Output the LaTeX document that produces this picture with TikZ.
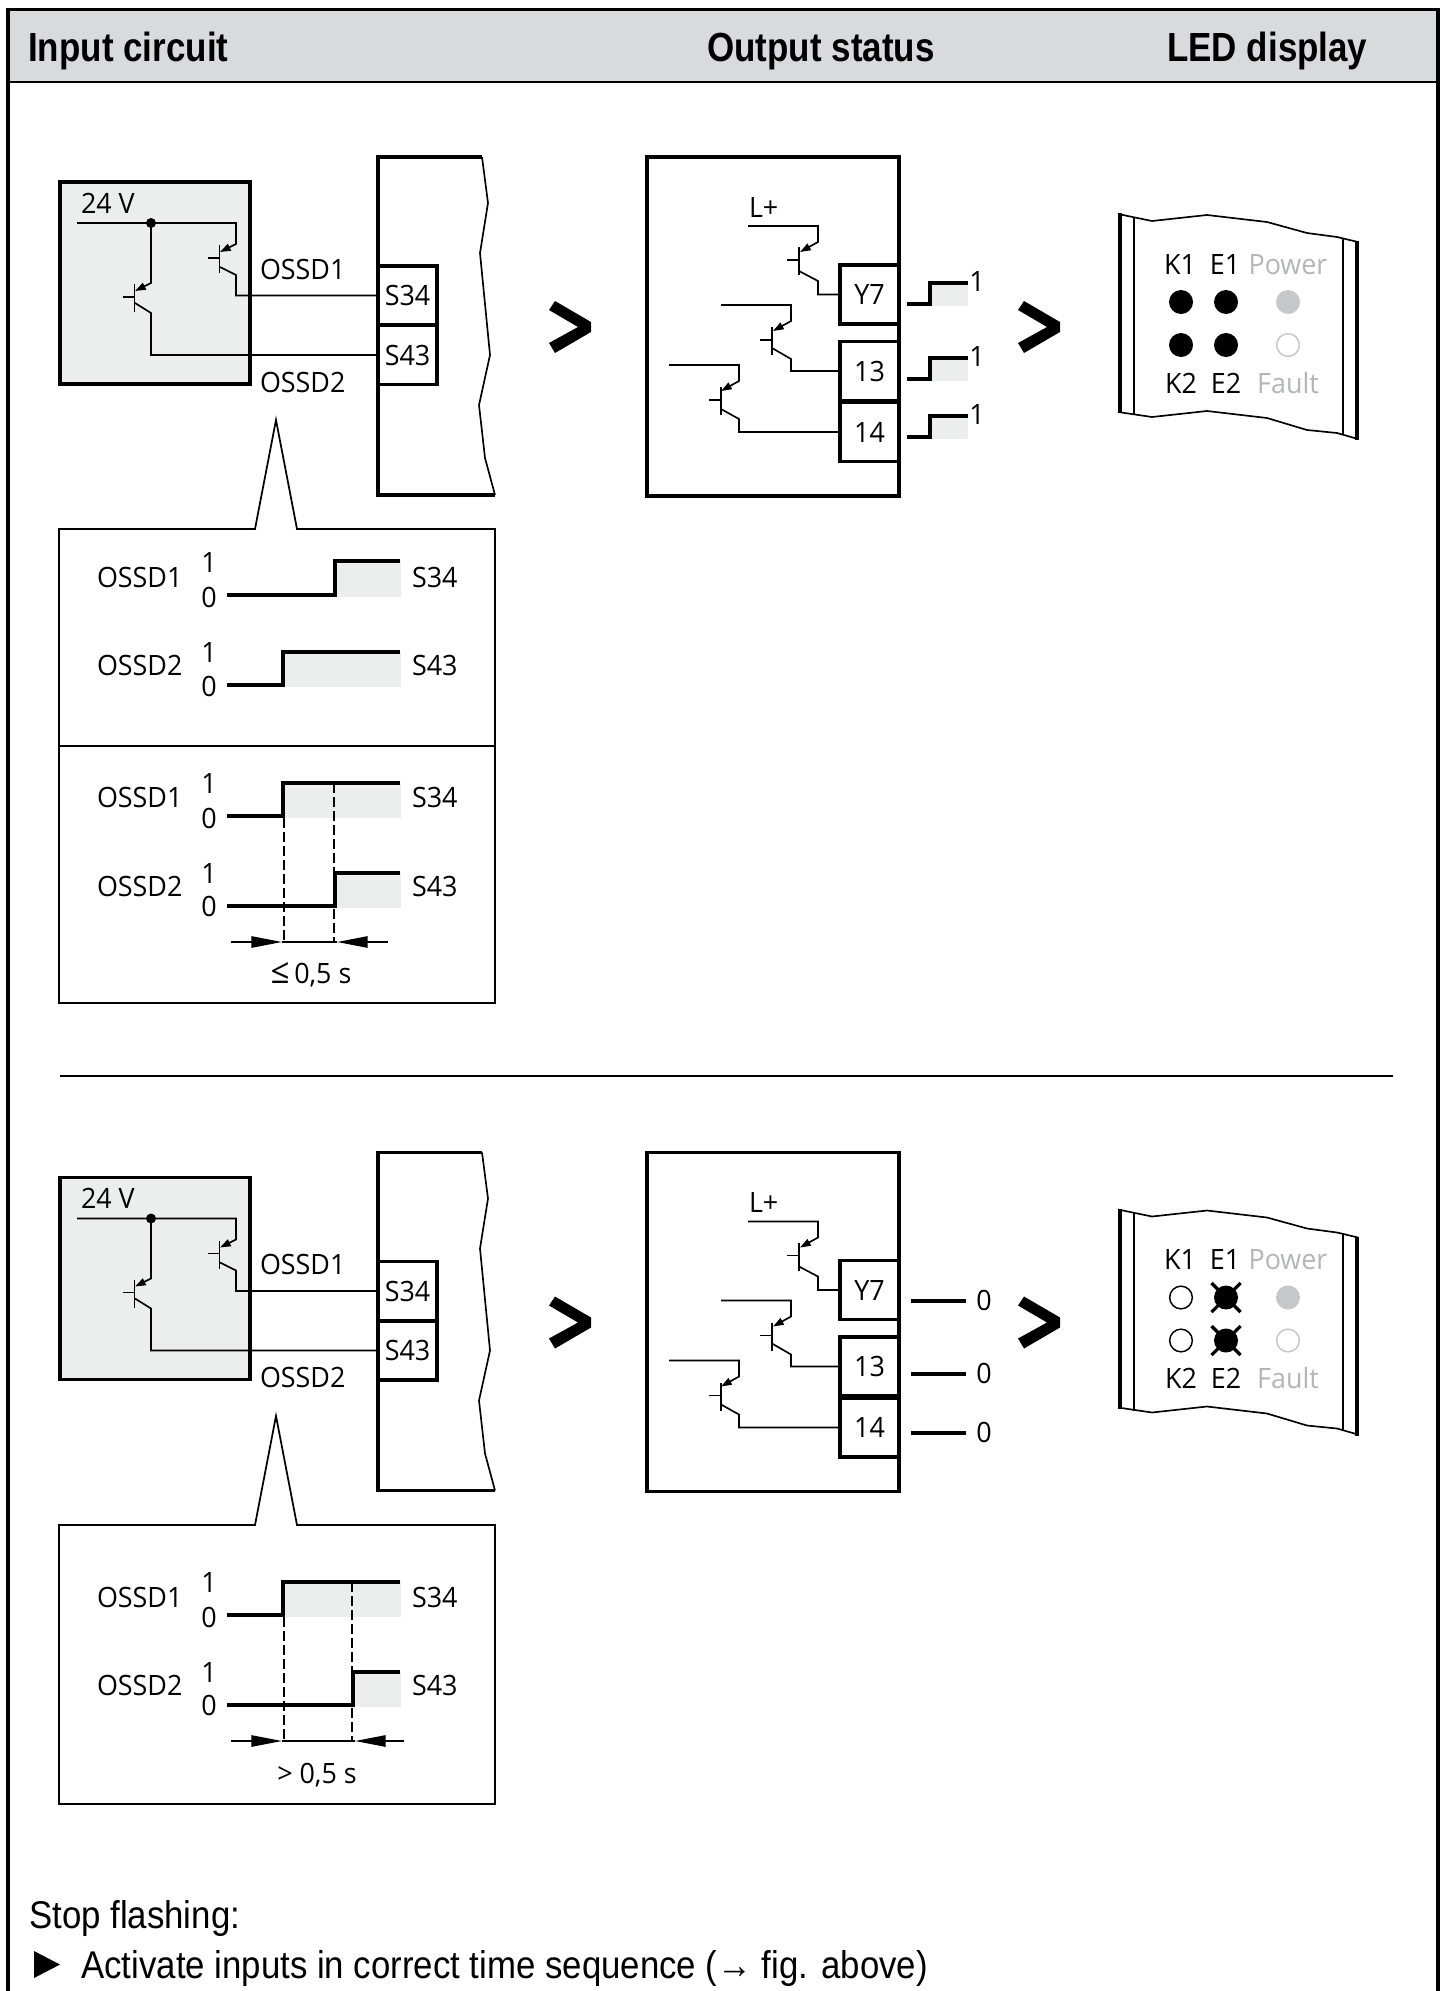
\documentclass[tikz,border=0pt]{standalone}
\usepackage{fontspec}
\setmainfont[FakeStretch=0.96]{Open Sans}
\newfontfamily\hdfont[FakeStretch=0.86]{Liberation Sans}
\newfontfamily\ftfont[FakeStretch=0.90]{Liberation Sans}
\usetikzlibrary{arrows.meta}
\definecolor{hdgray}{HTML}{D9DADB}
\definecolor{lightg}{HTML}{ECEDED}
\definecolor{ledg}{HTML}{C6C7C8}
\definecolor{txtg}{HTML}{B4B5B6}
\tikzset{
  heavy/.style={line width=2.7pt,line join=miter},
  medium/.style={line width=1.3pt},
  wire/.style={line width=1.25pt,line join=miter},
  wave/.style={line width=2.7pt,line join=miter},
  lab/.style={inner sep=0pt,outer sep=0pt,font=\fontsize{21}{25}\selectfont},
  labw/.style={lab,anchor=base west},
  labc/.style={lab,anchor=base},
  term/.style={draw,heavy,rectangle,inner sep=0pt,outer sep=0pt,minimum width=44.25pt,minimum height=44.25pt,font=\fontsize{21}{25}\selectfont},
  head/.style={inner sep=0pt,anchor=base west,font=\hdfont\bfseries\fontsize{30.5}{34}\selectfont},
  foot/.style={inner sep=0pt,anchor=base west,font=\ftfont\fontsize{29}{33}\selectfont},
  ledon/.style={circle,inner sep=0pt,minimum size=18pt,fill=black},
  ledoff/.style={circle,inner sep=0pt,minimum size=17pt,draw=black,line width=1.1pt},
  etip/.style={-{Triangle[length=8pt,width=5.5pt]}},
  dimtip/.style={-{Triangle[length=23pt,width=8.5pt]}},
}
\newcommand{\qbase}[2]{%
  \draw[wire] (#1,#2) -- (#1,#2+28);
  \draw[wire] (#1-12,#2+13) -- (#1,#2+13);
}
\newcommand{\chev}[1]{%
  \fill[black] (#1+555,301) -- (#1+591,322) -- (#1+591,332) -- (#1+555,353) -- (#1+549,343) -- (#1+578,327) -- (#1+549,310) -- cycle;
}
\newcommand{\sig}[9]{%
  \fill[lightg] (#8,#9) rectangle (400.5,#7+2);
  \draw[wave] (227,#7) -| (#8,#9) -- (400,#9);
  \node[labw] (#3a) at (97,#4) {#1};
  \node[labc] (#3b) at (209,#5) {1};
  \node[labc] (#3c) at (209,#6) {0};
  \node[labw] (#3d) at (412,#4) {#2};
}
\newcommand{\circuit}[1]{%
  \draw[heavy,fill=lightg] (60,182) rectangle (250,384);
  \draw[heavy] (482,157) -- (378,157) -- (378,495) -- (495,495);
  \draw[wire] (482,157) -- (488,203) -- (480,253) -- (490,355) -- (479,405) -- (485,458) -- (495,495);
  \node[term] (#1s34) at (407.5,295.5) {S34};
  \node[term] (#1s43) at (407.5,355) {S43};
  \node[labw] (#1v) at (81,213) {24 V};
  \node[labw] (#1o1) at (260,279) {OSSD1};
  \node[labw] (#1o2) at (260,392) {OSSD2};
  \coordinate (#1vs) at (77,223);
  \node[circle,fill=black,inner sep=0pt,minimum size=7.5pt] (#1dot) at (151,223) {};
  \draw[wire,etip] (#1vs) -| (236,244) -- (220,252);
  \draw[wire,etip] (#1dot.center) -- (151,283) -- (135,291);
  \qbase{219.5}{245}
  \qbase{134.5}{284}
  \draw[wire] (220,267) -- (236,275) |- (#1s34.west);
  \draw[wire] (135,303) -- (151,313) |- (#1s43.west);
  \chev{0}
  \draw[heavy] (647,157) rectangle (899,496);
  \node[term] (#1y7) at (869.5,294.5) {Y7};
  \node[term] (#1t13) at (869.5,371) {13};
  \node[term] (#1t14) at (869.5,432) {\raisebox{-1pt}{14}};
  \node[labw] (#1lp) at (749,217) {L+};
  \coordinate (#1a1) at (748,226);
  \coordinate (#1a2) at (721,305);
  \coordinate (#1a3) at (669,365);
  \draw[wire,etip] (#1a1) -| (818,242) -- (800,252);
  \draw[wire,etip] (#1a2) -| (791,321) -- (773,331);
  \draw[wire,etip] (#1a3) -| (739,381) -- (721,391);
  \qbase{799}{247}
  \qbase{772}{327}
  \qbase{721}{387}
  \draw[wire] (799,271) -- (818,281) |- (#1y7.west);
  \draw[wire] (772,348) -- (791,359) |- (#1t13.west);
  \draw[wire] (721,409) -- (739,419) |- (#1t14.west);
  \chev{469}
  \draw[wire] (1118,214) -- (1152,221) -- (1207,215) -- (1267,222) -- (1307,233) -- (1337,237) -- (1358,242);
  \draw[wire] (1118,412) -- (1152,417) -- (1207,411) -- (1267,418) -- (1307,430) -- (1337,433) -- (1358,439);
  \draw[line width=3pt] (1119.5,213) -- (1119.5,413);
  \draw[line width=3pt] (1357,241) -- (1357,440);
  \draw[wire] (1134,217) -- (1134,415);
  \draw[wire] (1343,238) -- (1343,434);
  \node[labc] (#1k1) at (1180,274) {K1};
  \node[labc] (#1e1) at (1225,274) {E1};
  \node[labc,text=txtg] (#1pw) at (1288,274) {Power};
  \node[labc] (#1k2) at (1181,393) {K2};
  \node[labc] (#1e2) at (1226,393) {E2};
  \node[labc,text=txtg] (#1fa) at (1288,393) {Fault};
  \node[circle,inner sep=0pt,minimum size=18pt,fill=ledg] (#1lp1) at (1288,302) {};
  \node[circle,inner sep=0pt,minimum size=17pt,draw=ledg,line width=1.1pt] (#1lp2) at (1288,345) {};
}
\begin{document}
\begin{tikzpicture}[x=0.75pt,y=-0.75pt]
\useasboundingbox (0,0) rectangle (1445,1991);
\fill[hdgray] (8,9.5) rectangle (1438,82);
\draw[line width=2.7pt] (8,1991) -- (8,9.5) -- (1438,9.5) -- (1438,1991);
\draw[line width=1.9pt] (8,82) -- (1438,82);
\node[head] (h1) at (28,62) {Input circuit};
\node[head] (h2) at (707,62) {Output status};
\node[head] (h3) at (1167,62) {LED display};

\circuit{u}
\begin{scope}[shift={(0,995.5)}]
\circuit{l}
\end{scope}

\foreach \lo/\hi/\ob [count=\i] in {304/283/291,379/358/366,437/416/424}{
  \fill[lightg] (930,\hi) rectangle (968,\lo+2);
  \draw[wave] (907,\lo) -| (930,\hi) -- (968,\hi);
  \node[labc] (uout\i) at (977,\ob) {1};
}
\foreach \yy/\ob [count=\i] in {1301/1310,1374/1383,1433/1442}{
  \draw[wave] (911,\yy) -- (966,\yy);
  \node[labc] (lout\i) at (984,\ob) {0};
}
\node[ledon] (l1) at (1181,302) {};
\node[ledon] (l2) at (1226,302) {};
\node[ledon] (l3) at (1181,345) {};
\node[ledon] (l4) at (1226,345) {};
\node[ledoff] (m1) at (1181,1297.5) {};
\node[ledon] (m2) at (1226,1297.5) {};
\node[ledoff] (m3) at (1181,1340.5) {};
\node[ledon] (m4) at (1226,1340.5) {};
\foreach \c in {m2,m4}{
  \draw[line width=2.4pt] ([shift={(-14.5,-14.5)}]\c.center) -- ([shift={(14.5,14.5)}]\c.center);
  \draw[line width=2.4pt] ([shift={(-14.5,14.5)}]\c.center) -- ([shift={(14.5,-14.5)}]\c.center);
}

\draw[medium,line join=miter] (59,529) -- (255,529) -- (276,420) -- (297,529) -- (495,529) -- (495,1003) -- (59,1003) -- cycle;
\draw[medium] (59,746) -- (495,746);
\sig{OSSD1}{S34}{pa}{587}{572}{607}{595}{335}{561}
\sig{OSSD2}{S43}{pb}{675}{662}{696}{685}{283}{652}
\sig{OSSD1}{S34}{pc}{807}{793}{828}{816}{283}{783}
\sig{OSSD2}{S43}{pd}{896}{883}{916}{906}{335}{873}
\draw[wire,dash pattern=on 7.5pt off 3pt] (284,818) -- (284,943);
\draw[wire,dash pattern=on 7.5pt off 3pt] (334,783) -- (334,943);
\coordinate (d1) at (231,942); \coordinate (d2) at (282,942);
\coordinate (d3) at (388,942); \coordinate (d4) at (337,942);
\draw[wire,dimtip] (d1) -- (d2);
\draw[wire,dimtip] (d3) -- (d4);
\draw[wire] (d2) -- (d4);
\node[labc] (t1) at (311,983) {{\fontsize{26}{26}\selectfont ≤}\,0,5 s};

\draw[medium,line join=miter] (59,1525) -- (255,1525) -- (276,1416) -- (297,1525) -- (495,1525) -- (495,1804) -- (59,1804) -- cycle;
\sig{OSSD1}{S34}{pe}{1607}{1592}{1627}{1615}{283}{1582}
\sig{OSSD2}{S43}{pf}{1695}{1682}{1715}{1705}{353}{1672}
\draw[wire,dash pattern=on 7.5pt off 3pt] (284,1617) -- (284,1742);
\draw[wire,dash pattern=on 7.5pt off 3pt] (352,1582) -- (352,1742);
\coordinate (e1) at (231,1741); \coordinate (e2) at (282,1741);
\coordinate (e3) at (404,1741); \coordinate (e4) at (355,1741);
\draw[wire,dimtip] (e1) -- (e2);
\draw[wire,dimtip] (e3) -- (e4);
\draw[wire] (e2) -- (e4);
\node[labc] (t2) at (317,1783) {> 0,5 s};

\draw[line width=2pt] (60,1076) -- (1393,1076);

\node[foot] (f1) at (29,1928) {Stop flashing:};
\fill[black] (34,1951) -- (60,1964.5) -- (34,1978) -- cycle;
\node[foot] (f2) at (81,1978) {Activate inputs in correct time sequence (→ fig. above)};
\end{tikzpicture}
\end{document}
